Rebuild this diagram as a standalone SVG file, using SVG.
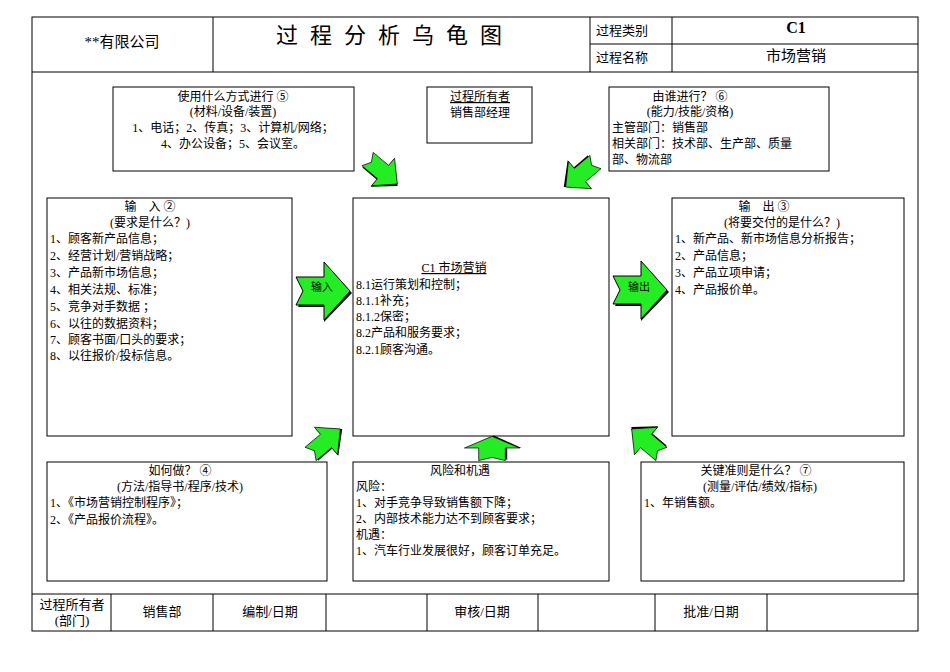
<svg xmlns="http://www.w3.org/2000/svg" width="950" height="672" viewBox="0 0 950 672">
<defs>
<style>
text{font-family:"Liberation Serif","Noto Sans CJK SC",serif;font-size:12px;fill:#000}
.c{text-anchor:middle}
.b{fill:#fff;stroke:#000;stroke-width:1}
.l{stroke:#000;stroke-width:1;fill:none}
.ar{fill:#22ee22;stroke:#000;stroke-width:1}
</style>
<g id="arw"><polygon points="-26,-12 0,-12 0,-27 28,2 0,31 0,16 -26,16 -19,2" fill="#000"/><polygon class="ar" points="-28,-14 0,-14 0,-29 26,0 0,29 0,14 -28,14 -21,0"/></g>
</defs>
<rect x="0" y="0" width="950" height="672" fill="#fff"/>
<g id="frame">
<rect class="l" x="32" y="17" width="886" height="614"/>
<line class="l" x1="32" y1="72" x2="918" y2="72"/>
<line class="l" x1="213" y1="17" x2="213" y2="72"/>
<line class="l" x1="590" y1="17" x2="590" y2="72"/>
<line class="l" x1="672" y1="17" x2="672" y2="72"/>
<line class="l" x1="590" y1="44" x2="918" y2="44"/>
<line class="l" x1="32" y1="594" x2="918" y2="594"/>
<line class="l" x1="111" y1="594" x2="111" y2="631"/>
<line class="l" x1="213" y1="594" x2="213" y2="631"/>
<line class="l" x1="326" y1="594" x2="326" y2="631"/>
<line class="l" x1="427" y1="594" x2="427" y2="631"/>
<line class="l" x1="538" y1="594" x2="538" y2="631"/>
<line class="l" x1="655" y1="594" x2="655" y2="631"/>
<line class="l" x1="767" y1="594" x2="767" y2="631"/>
<text class="c" x="122" y="47" style="font-size:15px">**有限公司</text>
<text class="c" x="395" y="43" style="font-size:22px;letter-spacing:12px">过程分析乌龟图</text>
<text class="c" x="622" y="35" style="font-size:13px">过程类别</text>
<text class="c" x="622" y="62" style="font-size:13px">过程名称</text>
<text class="c" x="796" y="33" style="font-size:16px;font-weight:bold">C1</text>
<text class="c" x="796" y="61" style="font-size:15px">市场营销</text>
<text class="c" x="72" y="609" style="font-size:13px">过程所有者</text>
<text class="c" x="72" y="625" style="font-size:13px">(部门)</text>
<text class="c" x="162" y="616" style="font-size:13px">销售部</text>
<text class="c" x="270" y="616" style="font-size:13px">编制/日期</text>
<text class="c" x="482" y="616" style="font-size:13px">审核/日期</text>
<text class="c" x="711" y="616" style="font-size:13px">批准/日期</text>
</g>
<g id="n-how"><rect class="b" x="113" y="87" width="241" height="84"/>
<text class="c" x="233" y="101">使用什么方式进行 ⑤</text><text class="c" x="233" y="116">(材料/设备/装置)</text>
<text class="c" x="233" y="132">1、电话；2、传真；3、计算机/网络；</text><text class="c" x="233" y="148">4、办公设备；5、会议室。</text></g>
<g id="n-owner"><rect class="b" x="427" y="87" width="105" height="56"/>
<text class="c" x="480" y="101" text-decoration="underline">过程所有者</text><text class="c" x="480" y="117">销售部经理</text></g>
<g id="n-who"><rect class="b" x="609" y="87" width="220" height="84"/>
<text class="c" x="690" y="101">由谁进行？ ⑥</text><text class="c" x="690" y="116">(能力/技能/资格)</text>
<text x="612" y="132">主管部门：销售部</text><text x="612" y="148">相关部门：技术部、生产部、质量</text><text x="612" y="164">部、物流部</text></g>
<g id="n-in"><rect class="b" x="47" y="198" width="245" height="238"/>
<text class="c" x="150" y="211">输　入 ②</text><text class="c" x="150" y="227">(要求是什么？)</text>
<text x="50" y="243">1、顾客新产品信息；</text><text x="50" y="260">2、经营计划/营销战略；</text><text x="50" y="277">3、产品新市场信息；</text><text x="50" y="294">4、相关法规、标准；</text><text x="50" y="311">5、竞争对手数据 ；</text><text x="50" y="328">6、以往的数据资料；</text><text x="50" y="344">7、顾客书面/口头的要求；</text><text x="50" y="360">8、以往报价/投标信息。</text></g>
<g id="n-center"><rect class="b" x="353" y="198" width="256" height="238"/>
<text class="c" x="454" y="272" text-decoration="underline">C1 市场营销</text>
<text x="356" y="289">8.1运行策划和控制；</text><text x="356" y="305">8.1.1补充；</text><text x="356" y="321">8.1.2保密；</text><text x="356" y="337">8.2产品和服务要求；</text><text x="356" y="354">8.2.1顾客沟通。</text></g>
<g id="n-out"><rect class="b" x="672" y="198" width="232" height="238"/>
<text class="c" x="764" y="211">输　出 ③</text><text class="c" x="782" y="227">(将要交付的是什么？)</text>
<text x="675" y="243">1、新产品、新市场信息分析报告；</text><text x="675" y="260">2、产品信息；</text><text x="675" y="277">3、产品立项申请；</text><text x="675" y="294">4、产品报价单。</text></g>
<g id="n-method"><rect class="b" x="47" y="462" width="280" height="119"/>
<text class="c" x="180" y="475">如何做？ ④</text><text class="c" x="180" y="491">(方法/指导书/程序/技术)</text>
<text x="50" y="507">1、《市场营销控制程序》；</text><text x="50" y="524">2、《产品报价流程》。</text></g>
<g id="n-risk"><rect class="b" x="353" y="462" width="256" height="119"/>
<text class="c" x="460" y="475">风险和机遇</text>
<text x="356" y="491">风险：</text><text x="356" y="507">1、对手竞争导致销售额下降；</text><text x="356" y="523">2、内部技术能力达不到顾客要求；</text><text x="356" y="539">机遇：</text><text x="356" y="555">1、汽车行业发展很好，顾客订单充足。</text></g>
<g id="n-kpi"><rect class="b" x="641" y="462" width="263" height="119"/>
<text class="c" x="756" y="475">关键准则是什么？ ⑦</text><text class="c" x="760" y="491">(测量/评估/绩效/指标)</text>
<text x="644" y="507">1、年销售额。</text></g>
<g id="connectors">
<use href="#arw" transform="translate(324,291)"/>
<text class="c" x="322" y="291" style="font-size:11px">输入</text>
<use href="#arw" transform="translate(641,290)"/>
<text class="c" x="639" y="291" style="font-size:11px">输出</text>
<use href="#arw" transform="translate(383,172) rotate(40) scale(0.72,0.62)"/>
<use href="#arw" transform="translate(580,175) rotate(140) scale(0.72,0.62)"/>
<use href="#arw" transform="translate(326,441) rotate(-40) scale(0.72,0.62)"/>
<use href="#arw" transform="translate(492,448) rotate(-90) scale(0.45,0.95)"/>
<use href="#arw" transform="translate(646,441) rotate(-140) scale(0.72,0.62)"/>
</g>
</svg>
